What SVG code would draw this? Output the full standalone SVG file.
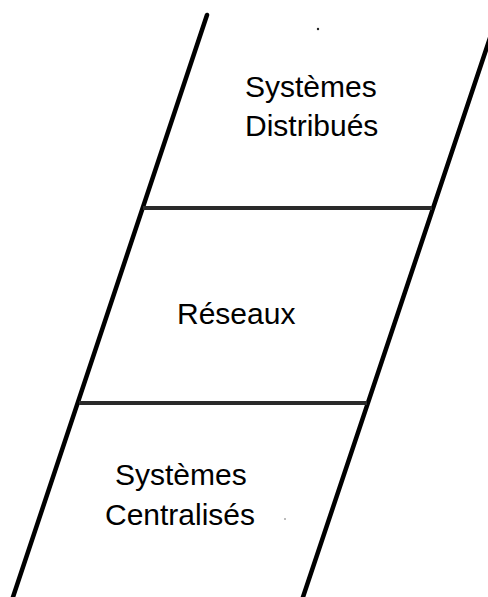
<svg xmlns="http://www.w3.org/2000/svg" width="488" height="597" viewBox="0 0 488 597">
<style>
.side{stroke:#000;stroke-width:4.5;stroke-linecap:round;fill:none}
.sep{stroke:#2a2a2a;stroke-width:4;fill:none}
.lbl{font-family:"Liberation Sans",Arial,sans-serif;font-size:30px;fill:#000;text-anchor:start}
</style>
<rect width="488" height="597" fill="#fff"/>
<g id="connectors">
<line class="side" x1="207" y1="15" x2="12" y2="600"/>
<line class="side" x1="496" y1="20" x2="302" y2="600"/>
<line class="sep" x1="143" y1="208" x2="432" y2="208"/>
<line class="sep" x1="79" y1="403" x2="367" y2="403"/>
</g>
<g id="distribues">
<text class="lbl" x="245" y="97">Systèmes</text>
<text class="lbl" x="245" y="136">Distribués</text>
</g>
<g id="reseaux">
<text class="lbl" x="177" y="324">Réseaux</text>
</g>
<g id="centralises">
<text class="lbl" x="115" y="485">Systèmes</text>
<text class="lbl" x="105" y="525">Centralisés</text>
</g>
<circle cx="318" cy="29" r="1.2" fill="#222"/>
<circle cx="285" cy="519" r="0.8" fill="#666"/>
</svg>
